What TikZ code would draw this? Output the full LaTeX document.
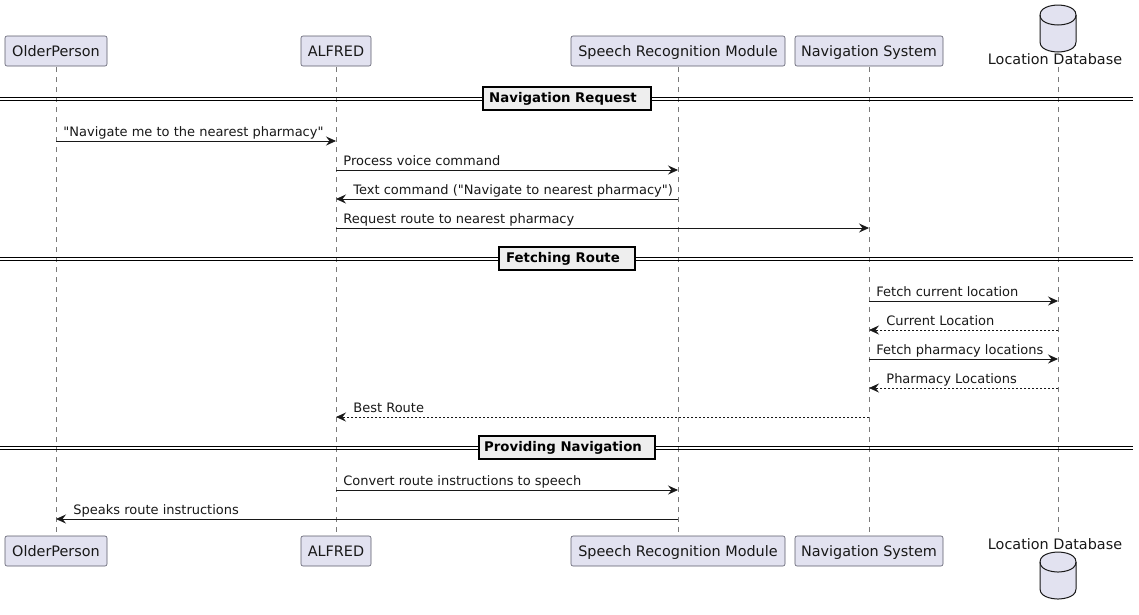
\documentclass[tikz,border=0pt]{standalone}
\usepackage{fontspec}
\usepackage{xcolor}
\setmainfont[Ligatures=TeXOff]{DejaVu Sans}
\usetikzlibrary{arrows.meta}
\definecolor{boxfill}{HTML}{E2E2F0}
\definecolor{boxline}{HTML}{5A5A6A}
\definecolor{lifeline}{HTML}{7A7A7A}
\definecolor{inkline}{HTML}{181818}
\definecolor{groupfill}{HTML}{EEEEEE}

\begin{document}
\begin{tikzpicture}[x=1pt,y=-1pt,
    font=\fontsize{13}{15}\selectfont,
    partbox/.style={shape=rectangle, draw=boxline, fill=boxfill, rounded corners=2pt, line width=0.6pt, minimum height=30pt, inner sep=0pt, text=inkline, text height=12pt, text depth=2pt, font=\fontsize{14.4}{16}\selectfont},
    dbtext/.style={inner sep=0pt, text=inkline, font=\fontsize{14.4}{16}\selectfont},
    dbcan/.pic={
      \draw[draw=inkline, fill=boxfill, line width=1pt] (-18,-13.5) .. controls (-18,-23.5) and (0,-23.5) .. (0,-23.5) .. controls (0,-23.5) and (18,-23.5) .. (18,-13.5) -- (18,13.5) .. controls (18,23.5) and (0,23.5) .. (0,23.5) .. controls (0,23.5) and (-18,23.5) .. (-18,13.5) -- cycle;
      \draw[draw=inkline, line width=1pt] (-18,-13.5) .. controls (-18,-3.5) and (0,-3.5) .. (0,-3.5) .. controls (0,-3.5) and (18,-3.5) .. (18,-13.5);
    },
    life/.style={draw=lifeline, line width=0.6pt, dash pattern=on 5pt off 5pt},
    msg/.style={draw=inkline, line width=0.8pt, -{Stealth[length=10pt,width=9pt,inset=3.5pt]}},
    reply/.style={msg, dash pattern=on 2pt off 2pt},
    msgtext/.style={anchor=base west, inner sep=0pt, text=inkline},
    sepline/.style={draw=black, line width=0.9pt},
    sepbox/.style={shape=rectangle, draw=black, fill=groupfill, line width=1.8pt, minimum height=23pt, inner sep=0pt, text height=10.5pt, text depth=2.5pt, font=\fontsize{13.3}{15}\selectfont\bfseries}]
    \useasboundingbox (0,0) rectangle (1139,614);

    % participants
    \node[partbox, minimum width=102pt] (older) at (56,51) {OlderPerson};
    \node[partbox, minimum width=70pt] (alfred) at (336,51) {ALFRED};
    \node[partbox, minimum width=214pt] (speech) at (678,51) {Speech Recognition Module};
    \node[partbox, minimum width=148pt] (nav) at (869,51) {Navigation System};
    \coordinate (db) at (1058,28.5);
    \pic at (db) {dbcan};
    \node[dbtext] (dblabel) at (1055,59) {Location Database};

    \node[partbox, minimum width=102pt] (olderb) at (56,551) {OlderPerson};
    \node[partbox, minimum width=70pt] (alfredb) at (336,551) {ALFRED};
    \node[partbox, minimum width=214pt] (speechb) at (678,551) {Speech Recognition Module};
    \node[partbox, minimum width=148pt] (navb) at (869,551) {Navigation System};
    \coordinate (dbb) at (1058,575.5);
    \pic at (dbb) {dbcan};
    \node[dbtext] (dblabelb) at (1055,544) {Location Database};

    \coordinate (lifetop) at (0,67);
    \coordinate (lifeend) at (0,533);
    \draw[life] (older |- lifetop) -- (olderb |- lifeend);
    \draw[life] (alfred |- lifetop) -- (alfredb |- lifeend);
    \draw[life] (speech |- lifetop) -- (speechb |- lifeend);
    \draw[life] (nav |- lifetop) -- (navb |- lifeend);
    \draw[life] (db |- lifetop) -- (dbb |- lifeend);

    % section dividers
    \coordinate (west) at (0,0);
    \coordinate (east) at (1133,0);
    \foreach \sy/\sname/\swidth/\stext in {98.8/sepa/168/Navigation Request, 258.8/sepb/136/Fetching Route, 447.8/sepc/176/Providing Navigation} {
      \coordinate (\sname) at (567,\sy);
      \draw[sepline] ([yshift=-1.5pt]west |- \sname) -- ([yshift=-1.5pt]east |- \sname);
      \draw[sepline] ([yshift=1.5pt]west |- \sname) -- ([yshift=1.5pt]east |- \sname);
      \node[sepbox, minimum width=\swidth pt] (\sname box) at (\sname) {\stext\kern8pt};
    }

    % messages
    \coordinate (ma) at (0,141);
    \coordinate (mb) at (0,170);
    \coordinate (mc) at (0,199);
    \coordinate (md) at (0,228);
    \coordinate (me) at (0,301);
    \coordinate (mf) at (0,330);
    \coordinate (mg) at (0,359);
    \coordinate (mh) at (0,388);
    \coordinate (mi) at (0,417);
    \coordinate (mj) at (0,490);
    \coordinate (mk) at (0,519);

    \draw[msg] (older |- ma) -- (alfred |- ma) node[msgtext, pos=0, xshift=7pt, yshift=4.5pt] (la) {"Navigate me to the nearest pharmacy"};
    \draw[msg] (alfred |- mb) -- (speech |- mb) node[msgtext, pos=0, xshift=7pt, yshift=4.5pt] (lb) {Process voice command};
    \draw[msg] (speech |- mc) -- (alfred |- mc) node[msgtext, pos=1, xshift=17pt, yshift=4.5pt] (lc) {Text command ("Navigate to nearest pharmacy")};
    \draw[msg] (alfred |- md) -- (nav |- md) node[msgtext, pos=0, xshift=7pt, yshift=4.5pt] (ld) {Request route to nearest pharmacy};

    \draw[msg] (nav |- me) -- (db |- me) node[msgtext, pos=0, xshift=7pt, yshift=4.5pt] (le) {Fetch current location};
    \draw[reply] (db |- mf) -- (nav |- mf) node[msgtext, pos=1, xshift=17pt, yshift=4.5pt] (lf) {Current Location};
    \draw[msg] (nav |- mg) -- (db |- mg) node[msgtext, pos=0, xshift=7pt, yshift=4.5pt] (lg) {Fetch pharmacy locations};
    \draw[reply] (db |- mh) -- (nav |- mh) node[msgtext, pos=1, xshift=17pt, yshift=4.5pt] (lh) {Pharmacy Locations};
    \draw[reply] (nav |- mi) -- (alfred |- mi) node[msgtext, pos=1, xshift=17pt, yshift=4.5pt] (li) {Best Route};

    \draw[msg] (alfred |- mj) -- (speech |- mj) node[msgtext, pos=0, xshift=7pt, yshift=4.5pt] (lj) {Convert route instructions to speech};
    \draw[msg] (speech |- mk) -- (older |- mk) node[msgtext, pos=1, xshift=17pt, yshift=4.5pt] (lk) {Speaks route instructions};
\end{tikzpicture}
\end{document}
